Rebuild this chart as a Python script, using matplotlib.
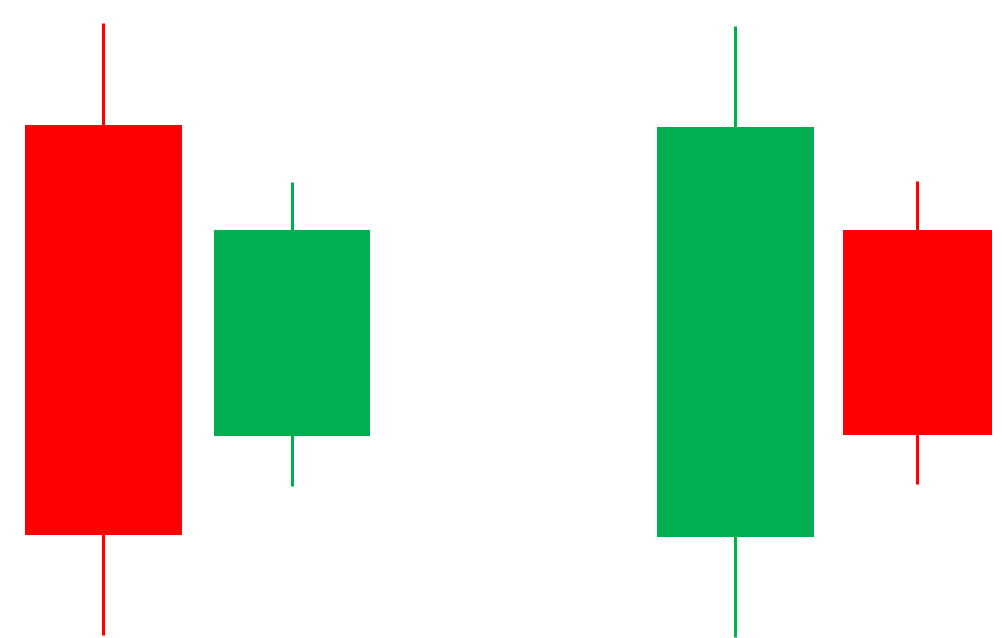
import matplotlib
matplotlib.use("Agg")
import matplotlib.pyplot as plt

# candle data (price units)
positions = [103.5, 292, 735.5, 917.5]
opens = [513, 202, 101, 408]
closes = [103, 408, 511, 203]
highs = [615, 456, 612, 457]
lows = [3, 152, 1, 154]

widths = [157, 156, 157, 149]
up_color = "#00B050"
down_color = "#FF0000"

fig = plt.figure(figsize=(10.02, 6.38), dpi=100)
ax = fig.add_axes([0, 0, 1, 1])
ax.set_xlim(0, 1002)
ax.set_ylim(0, 638)
ax.axis("off")

for x, o, c, h, l, w in zip(positions, opens, closes, highs, lows, widths):
    col = up_color if c >= o else down_color
    ax.vlines(x, l, h, color=col, linewidth=2.2, zorder=1)
    ax.bar(x, abs(c - o), bottom=min(o, c), width=w, color=col, zorder=2, linewidth=0)

fig.savefig("out.png", dpi=100, facecolor="white")
